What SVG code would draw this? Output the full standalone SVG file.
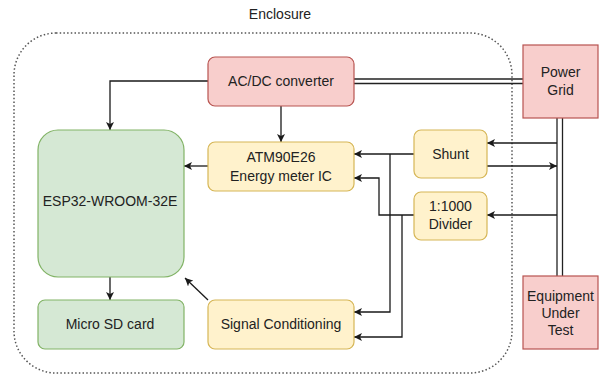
<svg xmlns="http://www.w3.org/2000/svg" width="599" height="379" viewBox="0 0 599 379">
<defs>
<marker id="arr" viewBox="0 0 10 10" refX="10" refY="5" markerWidth="8" markerHeight="8" markerUnits="userSpaceOnUse" orient="auto">
<path d="M0,0 L10,5 L0,10 L2.5,5 Z" fill="#1a1a1a"/>
</marker>
<style>
text{font-family:"Liberation Sans",Arial,sans-serif;font-size:14px;fill:#222;text-anchor:middle}
.red{fill:#f8cecc;stroke:#b85450;stroke-width:1.2}
.yel{fill:#fff2cc;stroke:#d6b656;stroke-width:1.2}
.grn{fill:#d5e8d4;stroke:#82b366;stroke-width:1.2}
.c{fill:none;stroke:#1a1a1a;stroke-width:1.3}
.a{marker-end:url(#arr)}
.d{fill:none;stroke:#222;stroke-width:1.3}
</style>
</defs>
<rect width="599" height="379" fill="#ffffff"/>
<g id="enclosure">
<rect x="14" y="33" width="498" height="340" rx="42" ry="42" fill="none" stroke="#555" stroke-width="1.5" stroke-dasharray="1.5 2.2"/>
<text x="280" y="19">Enclosure</text>
</g>
<g id="connectors">
<polyline class="c a" points="208,81 110,81 110,130"/>
<line class="c a" x1="281" y1="106" x2="281" y2="142"/>
<line class="c a" x1="208" y1="166" x2="184" y2="166"/>
<line class="c a" x1="208" y1="300" x2="185" y2="278"/>
<line class="c a" x1="110" y1="277" x2="110" y2="300"/>
<line class="d" x1="354" y1="79" x2="523" y2="79"/>
<line class="d" x1="354" y1="83.5" x2="523" y2="83.5"/>
<line class="d" x1="557" y1="118" x2="557" y2="276"/>
<line class="d" x1="562.5" y1="118" x2="562.5" y2="276"/>
<line class="c a" x1="557" y1="143" x2="487" y2="143"/>
<line class="c a" x1="487" y1="166" x2="557" y2="166"/>
<line class="c a" x1="557" y1="215" x2="487" y2="215"/>
<line class="c a" x1="414" y1="154" x2="354" y2="154"/>
<polyline class="c a" points="390,154 390,312 354,312"/>
<polyline class="c a" points="414,215 379,215 379,178 354,178"/>
<polyline class="c a" points="402,215 402,337 354,337"/>
</g>
<g id="acdc">
<rect class="red" x="208" y="57" width="146" height="49" rx="7"/>
<text x="281" y="86">AC/DC converter</text>
</g>
<g id="powergrid">
<rect class="red" x="523" y="45" width="75" height="73"/>
<text x="560.5" y="77">Power</text>
<text x="560.5" y="95">Grid</text>
</g>
<g id="esp32">
<rect class="grn" x="38" y="130" width="146" height="147" rx="20"/>
<text x="110" y="206">ESP32-WROOM-32E</text>
</g>
<g id="microsd">
<rect class="grn" x="38" y="300" width="146" height="49" rx="7"/>
<text x="110" y="329">Micro SD card</text>
</g>
<g id="atm">
<rect class="yel" x="208" y="142" width="146" height="49" rx="7"/>
<text x="281" y="162">ATM90E26</text>
<text x="281" y="181">Energy meter IC</text>
</g>
<g id="signal">
<rect class="yel" x="208" y="300" width="146" height="49" rx="7"/>
<text x="281" y="329">Signal Conditioning</text>
</g>
<g id="shunt">
<rect class="yel" x="414" y="130" width="73" height="48" rx="7"/>
<text x="450.5" y="159">Shunt</text>
</g>
<g id="divider">
<rect class="yel" x="414" y="192" width="73" height="48" rx="7"/>
<text x="450.5" y="211">1:1000</text>
<text x="450.5" y="229">Divider</text>
</g>
<g id="eut">
<rect class="red" x="523" y="276" width="75" height="73"/>
<text x="560.5" y="301">Equipment</text>
<text x="560.5" y="318">Under</text>
<text x="560.5" y="335">Test</text>
</g>
</svg>
